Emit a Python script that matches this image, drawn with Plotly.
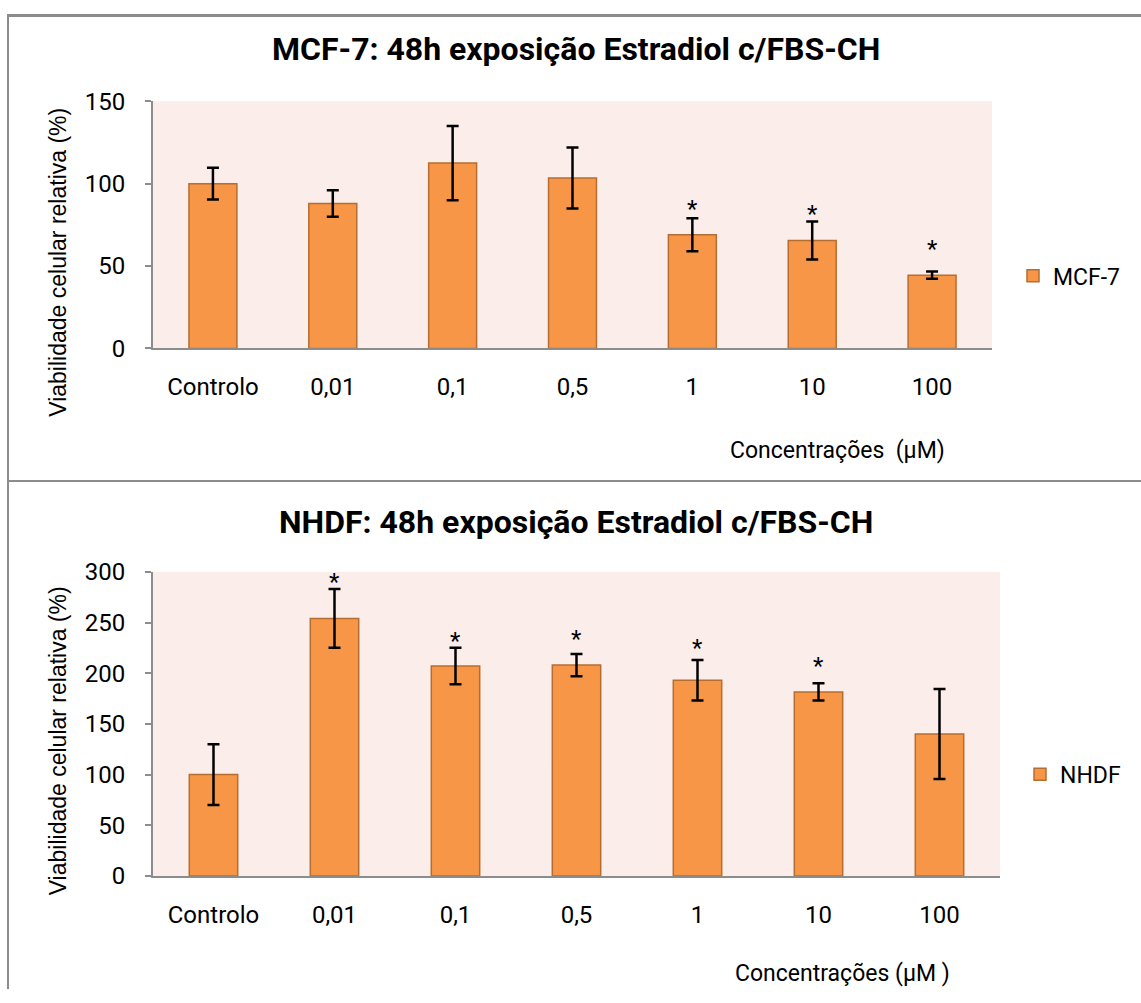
import plotly.graph_objects as go

W, H = 1141, 1003

categories = ["Controlo", "0,01", "0,1", "0,5", "1", "10", "100"]

mcf7_values = [100, 88, 112.5, 103.5, 69, 65.5, 44.5]
mcf7_errors = [9.6, 8, 22.5, 18.5, 10, 11.5, 2.2]
mcf7_sig_y = [None, None, None, None, 87.7, 84.7, 63.5]

nhdf_values = [100, 254, 207, 208, 193, 181.5, 140]
nhdf_errors = [30, 29, 18, 11, 20, 8.5, 44.5]
nhdf_sig_y = [None, 295, 237, 239, 230, 212.5, None]

BAR = "#F79646"
BAR_LINE = "#B66D31"
BG = "#FBEDE9"
AXIS = "#8C8C8C"
FONT = "Roboto"

# vertical placement helper (photo appears vertically fitted: y' = 12.5 + 0.975 y)
V_OFF, V_SCALE = 12.5, 0.975


def px_x(p):
    return p / W


def px_y(p):
    y = (p - V_OFF) / V_SCALE
    return min(1.0, max(0.0, 1 - y / H))


fig = go.Figure()

fig.add_trace(go.Bar(
    x=categories, y=mcf7_values, name="MCF-7", width=0.4,
    marker=dict(color=BAR, line=dict(color=BAR_LINE, width=1.5)),
    error_y=dict(type="data", array=mcf7_errors, visible=True,
                 color="black", thickness=2.5, width=6),
    xaxis="x", yaxis="y", legend="legend",
))
fig.add_trace(go.Bar(
    x=categories, y=nhdf_values, name="NHDF", width=0.4,
    marker=dict(color=BAR, line=dict(color=BAR_LINE, width=1.5)),
    error_y=dict(type="data", array=nhdf_errors, visible=True,
                 color="black", thickness=2.5, width=6),
    xaxis="x2", yaxis="y2", legend="legend2",
))

annotations = []
for i, sy in enumerate(mcf7_sig_y):
    if sy is not None:
        annotations.append(dict(x=i, y=sy, xref="x", yref="y", text="*",
                                showarrow=False, yanchor="middle", yshift=-5,
                                font=dict(family=FONT, size=24, color="black")))
for i, sy in enumerate(nhdf_sig_y):
    if sy is not None:
        annotations.append(dict(x=i, y=sy, xref="x2", yref="y2", text="*",
                                showarrow=False, yanchor="middle", yshift=-5,
                                font=dict(family=FONT, size=24, color="black")))

# titles
annotations.append(dict(x=px_x(576), y=px_y(48), xref="paper", yref="paper",
                        text="<b>MCF-7: 48h exposição Estradiol c/FBS-CH</b>",
                        showarrow=False, xanchor="center", yanchor="middle",
                        font=dict(family=FONT, size=32, color="black")))
annotations.append(dict(x=px_x(576), y=px_y(522), xref="paper", yref="paper",
                        text="<b>NHDF: 48h exposição Estradiol c/FBS-CH</b>",
                        showarrow=False, xanchor="center", yanchor="middle",
                        font=dict(family=FONT, size=32, color="black")))
# axis titles
for cy in (262, 742):
    annotations.append(dict(x=px_x(58), y=px_y(cy), xref="paper", yref="paper",
                            text="Viabilidade celular relativa (%)", textangle=-90,
                            showarrow=False, xanchor="center", yanchor="middle",
                            font=dict(family="Liberation Sans", size=23, color="black")))
annotations.append(dict(x=px_x(837), y=px_y(450), xref="paper", yref="paper",
                        text="Concentrações  (µM)", showarrow=False,
                        xanchor="center", yanchor="middle",
                        font=dict(family=FONT, size=23, color="black")))
annotations.append(dict(x=px_x(842), y=px_y(975), xref="paper", yref="paper",
                        text="Concentrações (µM )", showarrow=False,
                        xanchor="center", yanchor="middle",
                        font=dict(family=FONT, size=23, color="black")))

shapes = [
    dict(type="line", xref="paper", yref="paper", x0=px_x(7), x1=1, y0=0.9985, y1=0.9985,
         line=dict(color=AXIS, width=3)),
    dict(type="line", xref="paper", yref="paper", x0=px_x(8), x1=px_x(8), y0=0.9985, y1=0,
         line=dict(color=AXIS, width=2)),
    dict(type="line", xref="paper", yref="paper", x0=px_x(8), x1=1, y0=px_y(481), y1=px_y(481),
         line=dict(color=AXIS, width=2)),
]

xcommon = dict(type="category", showline=True, linecolor=AXIS, linewidth=2,
               ticks="", showgrid=False, ticklabelstandoff=16, range=[-0.5, 6.5],
               autorange=False, tickangle=0,
               tickfont=dict(family=FONT, size=24, color="black"))
ycommon = dict(showline=True, linecolor=AXIS, linewidth=2, ticks="outside",
               ticklen=6, tickcolor=AXIS, tickwidth=2, showgrid=False, zeroline=False,
               ticklabelstandoff=15,
               tickfont=dict(family=FONT, size=24, color="black"))

fig.update_layout(
    width=W, height=H,
    margin=dict(l=0, r=0, t=0, b=0),
    paper_bgcolor="white",
    plot_bgcolor=BG,
    showlegend=True,
    xaxis=dict(domain=[px_x(153), px_x(992)], anchor="y", **xcommon),
    yaxis=dict(domain=[px_y(348), px_y(100)], anchor="x", range=[0, 150],
               tickvals=[0, 50, 100, 150], **ycommon),
    xaxis2=dict(domain=[px_x(153), px_x(1000)], anchor="y2", **xcommon),
    yaxis2=dict(domain=[px_y(877), px_y(572)], anchor="x2", range=[0, 300],
                tickvals=[0, 50, 100, 150, 200, 250, 300], **ycommon),
    legend=dict(x=px_x(1013), y=px_y(275), xanchor="left", yanchor="middle",
                font=dict(family=FONT, size=23, color="black"), bgcolor="rgba(0,0,0,0)"),
    legend2=dict(x=px_x(1020), y=px_y(775), xanchor="left", yanchor="middle",
                 font=dict(family=FONT, size=23, color="black"), bgcolor="rgba(0,0,0,0)"),
    annotations=annotations,
    shapes=shapes,
)

fig.write_html("out.html", post_script="document.body.style.margin='0';")
